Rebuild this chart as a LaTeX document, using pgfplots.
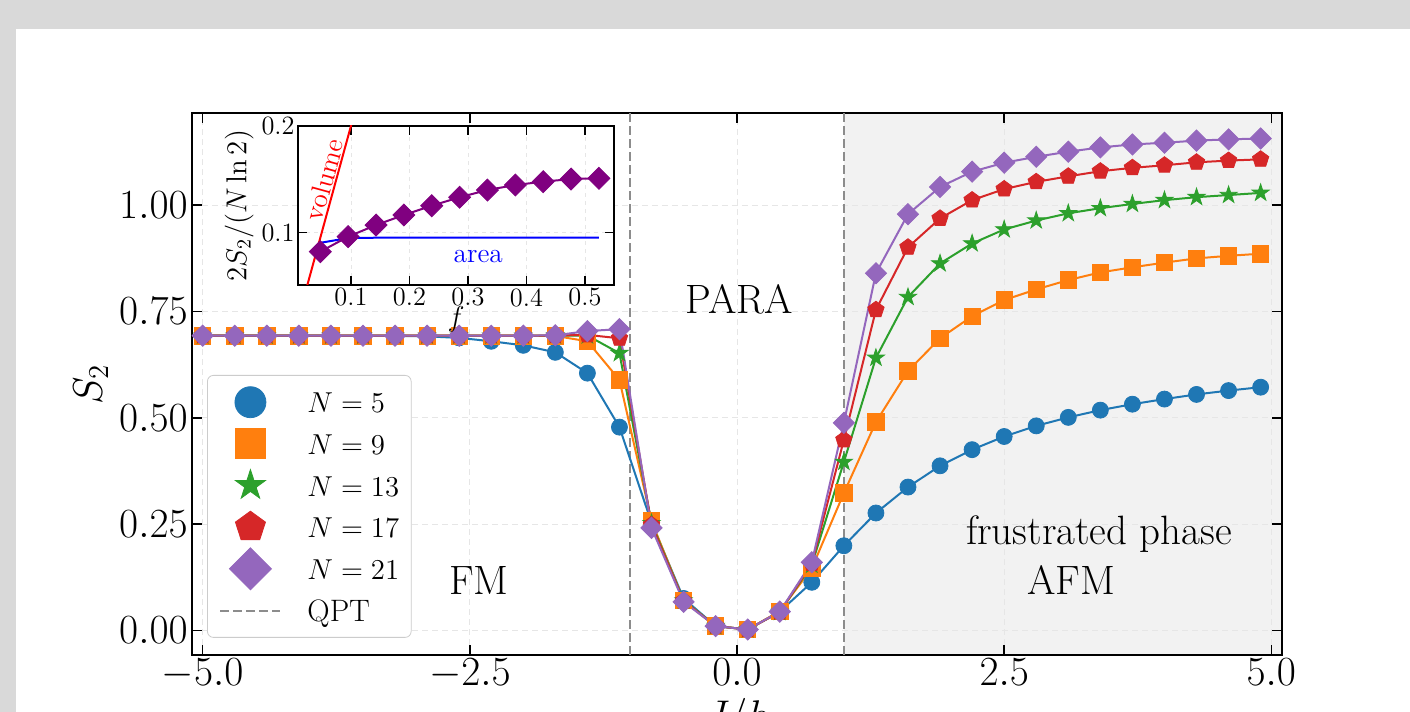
\documentclass[border=0pt]{standalone}
\usepackage{pgfplots}
\pgfplotsset{compat=1.18}

\definecolor{c0}{HTML}{1F77B4}
\definecolor{c1}{HTML}{FF7F0E}
\definecolor{c2}{HTML}{2CA02C}
\definecolor{c3}{HTML}{D62728}
\definecolor{c4}{HTML}{9467BD}
\definecolor{insetpurple}{HTML}{800080}
\definecolor{pagegray}{HTML}{D9D9D9}
\definecolor{frustgray}{HTML}{F2F2F2}
\definecolor{gridc}{HTML}{E6E6E6}
\definecolor{qptc}{HTML}{8C8C8C}

\newcommand{\ftick}{\fontsize{20.5}{24}\selectfont}
\newcommand{\fleg}{\fontsize{15.5}{18}\selectfont}
\newcommand{\fins}{\fontsize{13.2}{15}\selectfont}
\newcommand{\finl}{\fontsize{13.7}{16}\selectfont}

% filled markers shaped like the matplotlib ones
\pgfdeclareplotmark{fstar}{%
  \pgfpathmoveto{\pgfqpoint{0pt}{\pgfplotmarksize}}%
  \pgfpathlineto{\pgfqpoint{-0.2245\pgfplotmarksize}{0.3090\pgfplotmarksize}}%
  \pgfpathlineto{\pgfqpoint{-0.9511\pgfplotmarksize}{0.3090\pgfplotmarksize}}%
  \pgfpathlineto{\pgfqpoint{-0.3633\pgfplotmarksize}{-0.1180\pgfplotmarksize}}%
  \pgfpathlineto{\pgfqpoint{-0.5878\pgfplotmarksize}{-0.8090\pgfplotmarksize}}%
  \pgfpathlineto{\pgfqpoint{0pt}{-0.382\pgfplotmarksize}}%
  \pgfpathlineto{\pgfqpoint{0.5878\pgfplotmarksize}{-0.8090\pgfplotmarksize}}%
  \pgfpathlineto{\pgfqpoint{0.3633\pgfplotmarksize}{-0.1180\pgfplotmarksize}}%
  \pgfpathlineto{\pgfqpoint{0.9511\pgfplotmarksize}{0.3090\pgfplotmarksize}}%
  \pgfpathlineto{\pgfqpoint{0.2245\pgfplotmarksize}{0.3090\pgfplotmarksize}}%
  \pgfpathclose\pgfusepathqfillstroke}
\pgfdeclareplotmark{fpent}{%
  \pgfpathmoveto{\pgfqpoint{0pt}{\pgfplotmarksize}}%
  \pgfpathlineto{\pgfqpoint{-0.9511\pgfplotmarksize}{0.3090\pgfplotmarksize}}%
  \pgfpathlineto{\pgfqpoint{-0.5878\pgfplotmarksize}{-0.8090\pgfplotmarksize}}%
  \pgfpathlineto{\pgfqpoint{0.5878\pgfplotmarksize}{-0.8090\pgfplotmarksize}}%
  \pgfpathlineto{\pgfqpoint{0.9511\pgfplotmarksize}{0.3090\pgfplotmarksize}}%
  \pgfpathclose\pgfusepathqfillstroke}
\pgfdeclareplotmark{fdiam}{%
  \pgfpathmoveto{\pgfqpoint{0pt}{\pgfplotmarksize}}%
  \pgfpathlineto{\pgfqpoint{-\pgfplotmarksize}{0pt}}%
  \pgfpathlineto{\pgfqpoint{0pt}{-\pgfplotmarksize}}%
  \pgfpathlineto{\pgfqpoint{\pgfplotmarksize}{0pt}}%
  \pgfpathclose\pgfusepathqfillstroke}

\pgfplotsset{
  ser/.style={line width=1pt, mark options={solid, line width=0.4pt}},
  n5/.style={ser, c0, mark=*, mark size=4pt,
    legend image code/.code={\draw[##1, mark size=7.75pt] plot coordinates {(15pt,0pt)};}},
  n9/.style={ser, c1, mark=square*, mark size=4.1pt,
    legend image code/.code={\draw[##1, mark size=7.5pt] plot coordinates {(15pt,0pt)};}},
  n13/.style={ser, c2, mark=fstar, mark size=4.5pt,
    legend image code/.code={\draw[##1, mark size=7.9pt] plot coordinates {(15pt,0pt)};}},
  n17/.style={ser, c3, mark=fpent, mark size=4.3pt,
    legend image code/.code={\draw[##1, mark size=7.9pt] plot coordinates {(15pt,0pt)};}},
  n21/.style={ser, c4, mark=fdiam, mark size=5.3pt,
    legend image code/.code={\draw[##1, mark size=10.5pt] plot coordinates {(15pt,0pt)};}},
  qpt/.style={qptc, line width=1pt, dash pattern=on 4.5pt off 2pt,
    legend image code/.code={\draw[##1] (0pt,0pt) -- (30pt,0pt);}},
}

\begin{document}
\begin{tikzpicture}
\useasboundingbox (0,0) rectangle (705pt,356pt);
\fill[pagegray] (0,0) rectangle (705pt,356pt);
\fill[white] (8pt,0) rectangle (705pt,341.5pt);

% shaded frustrated region, under the grid of the main axis
\begin{axis}[
    at={(96pt,28.5pt)}, anchor=south west,
    width=545pt, height=271pt, scale only axis,
    xmin=-5.1, xmax=5.1, ymin=-0.058, ymax=1.217,
    hide axis,
  ]
  \fill[frustgray] (axis cs:1,-0.058) rectangle (axis cs:5.1,1.217);
\end{axis}

\begin{axis}[
    at={(96pt,28.5pt)}, anchor=south west,
    width=545pt, height=271pt, scale only axis,
    xmin=-5.1, xmax=5.1, ymin=-0.058, ymax=1.217,
    xtick={-5,-2.5,0,2.5,5},
    ytick={0,0.25,0.5,0.75,1},
    x tick label style={/pgf/number format/.cd, fixed, fixed zerofill, precision=1, /tikz/.cd, inner sep=1.5pt},
    y tick label style={/pgf/number format/.cd, fixed, fixed zerofill, precision=2, /tikz/.cd, inner sep=2pt},
    tick label style={font=\ftick},
    label style={font=\ftick},
    xlabel={$J/h$}, ylabel={$S_2$},
    tick align=inside, tick pos=both, major tick length=5pt,
    major tick style={black, line width=0.8pt},
    axis line style={black, line width=0.9pt},
    grid=major, major grid style={gridc, line width=0.5pt, dash pattern=on 3pt off 2pt},
    legend cell align=left,
    legend style={
      at={(0.0138,0.5166)}, anchor=north west,
      draw=black!20, rounded corners=3pt, fill=white,
      font=\fleg, inner xsep=6pt, inner ysep=3pt, row sep=0pt,
      /tikz/every odd column/.append style={column sep=13pt},
      nodes={inner sep=0pt, text height=15.7pt, text depth=5.1pt},
    },
  ]
  \addplot[qpt, forget plot] coordinates {(-1,-0.058) (-1,1.217)};
  \addplot[qpt, forget plot] coordinates {(1,-0.058) (1,1.217)};

  % N = 5
  \addplot[n5] coordinates {
    (-5.0,0.6931) (-4.7,0.6931) (-4.4,0.6931) (-4.1,0.6931) (-3.8,0.6930) (-3.5,0.6929)
    (-3.2,0.6925) (-2.9,0.6915) (-2.6,0.6880) (-2.3,0.6800) (-2.0,0.6705) (-1.7,0.6540)
    (-1.4,0.6050) (-1.1,0.4780) (-0.8,0.2530) (-0.5,0.0750) (-0.2,0.0100) (0.1,0.0020)
    (0.4,0.0440) (0.7,0.1130) (1.0,0.1990) (1.3,0.2760) (1.6,0.3370) (1.9,0.3870)
    (2.2,0.4250) (2.5,0.4560) (2.8,0.4810) (3.1,0.5010) (3.4,0.5180) (3.7,0.5320)
    (4.0,0.5440) (4.3,0.5550) (4.6,0.5640) (4.9,0.5720)};
  % N = 9
  \addplot[n9] coordinates {
    (-5.0,0.6931) (-4.7,0.6931) (-4.4,0.6931) (-4.1,0.6931) (-3.8,0.6931) (-3.5,0.6931)
    (-3.2,0.6931) (-2.9,0.6931) (-2.6,0.6931) (-2.3,0.6931) (-2.0,0.6930) (-1.7,0.6925)
    (-1.4,0.6800) (-1.1,0.5890) (-0.8,0.2570) (-0.5,0.0700) (-0.2,0.0100) (0.1,0.0020)
    (0.4,0.0450) (0.7,0.1460) (1.0,0.3230) (1.3,0.4900) (1.6,0.6100) (1.9,0.6870)
    (2.2,0.7390) (2.5,0.7770) (2.8,0.8020) (3.1,0.8240) (3.4,0.8420) (3.7,0.8540)
    (4.0,0.8650) (4.3,0.8750) (4.6,0.8810) (4.9,0.8860)};
  % N = 13
  \addplot[n13] coordinates {
    (-5.0,0.6931) (-4.7,0.6931) (-4.4,0.6931) (-4.1,0.6931) (-3.8,0.6931) (-3.5,0.6931)
    (-3.2,0.6931) (-2.9,0.6931) (-2.6,0.6931) (-2.3,0.6931) (-2.0,0.6931) (-1.7,0.6932)
    (-1.4,0.6935) (-1.1,0.6520) (-0.8,0.2520) (-0.5,0.0700) (-0.2,0.0100) (0.1,0.0020)
    (0.4,0.0430) (0.7,0.1540) (1.0,0.3960) (1.3,0.6410) (1.6,0.7840) (1.9,0.8630)
    (2.2,0.9100) (2.5,0.9430) (2.8,0.9640) (3.1,0.9810) (3.4,0.9930) (3.7,1.0030)
    (4.0,1.0120) (4.3,1.0190) (4.6,1.0240) (4.9,1.0290)};
  % N = 17
  \addplot[n17] coordinates {
    (-5.0,0.6931) (-4.7,0.6931) (-4.4,0.6931) (-4.1,0.6931) (-3.8,0.6931) (-3.5,0.6931)
    (-3.2,0.6931) (-2.9,0.6931) (-2.6,0.6931) (-2.3,0.6931) (-2.0,0.6931) (-1.7,0.6935)
    (-1.4,0.6950) (-1.1,0.6870) (-0.8,0.2480) (-0.5,0.0690) (-0.2,0.0100) (0.1,0.0020)
    (0.4,0.0430) (0.7,0.1570) (1.0,0.4480) (1.3,0.7540) (1.6,0.9010) (1.9,0.9690)
    (2.2,1.0120) (2.5,1.0380) (2.8,1.0550) (3.1,1.0680) (3.4,1.0800) (3.7,1.0880)
    (4.0,1.0940) (4.3,1.1010) (4.6,1.1050) (4.9,1.1080)};
  % N = 21
  \addplot[n21] coordinates {
    (-5.0,0.6931) (-4.7,0.6931) (-4.4,0.6931) (-4.1,0.6931) (-3.8,0.6931) (-3.5,0.6931)
    (-3.2,0.6931) (-2.9,0.6931) (-2.6,0.6931) (-2.3,0.6931) (-2.0,0.6932) (-1.7,0.6940)
    (-1.4,0.7040) (-1.1,0.7085) (-0.8,0.2410) (-0.5,0.0670) (-0.2,0.0100) (0.1,0.0020)
    (0.4,0.0440) (0.7,0.1600) (1.0,0.4880) (1.3,0.8400) (1.6,0.9790) (1.9,1.0430)
    (2.2,1.0790) (2.5,1.1000) (2.8,1.1140) (3.1,1.1260) (3.4,1.1360) (3.7,1.1430)
    (4.0,1.1470) (4.3,1.1520) (4.6,1.1550) (4.9,1.1570)};
  \addlegendimage{qpt}
  \legend{$N=5$, $N=9$, $N=13$, $N=17$, $N=21$, QPT}

  \node[font=\ftick, anchor=base] at (axis cs:0.02,0.746) {PARA};
  \node[font=\ftick, anchor=base] at (axis cs:-2.414,0.084) {FM};
  \node[font=\ftick, anchor=base] at (axis cs:3.388,0.201) {frustrated phase};
  \node[font=\ftick, anchor=base] at (axis cs:3.13,0.084) {AFM};
\end{axis}

% inset: scaling with subsystem fraction
\begin{axis}[
    at={(149pt,213.5pt)}, anchor=south west,
    width=158pt, height=79.5pt, scale only axis,
    axis background/.style={fill=white},
    xmin=0.0095, xmax=0.5496, ymin=0.051, ymax=0.2,
    xtick={0.1,0.2,0.3,0.4,0.5}, ytick={0.1,0.2},
    x tick label style={/pgf/number format/.cd, fixed, fixed zerofill, precision=1, assume math mode=true, /tikz/.cd, inner sep=1.5pt},
    y tick label style={/pgf/number format/.cd, fixed, fixed zerofill, precision=1, assume math mode=true, /tikz/.cd, inner sep=1.5pt},
    tick label style={font=\fins},
    label style={font=\finl},
    xlabel={$f$}, ylabel={$2S_2/(N\ln 2)$},
    xlabel style={yshift=5pt}, ylabel style={yshift=-1pt},
    tick align=inside, tick pos=both, major tick length=4.5pt,
    major tick style={black, line width=0.7pt},
    axis line style={black, line width=0.8pt},
    grid=major, major grid style={gridc, line width=0.4pt, dash pattern=on 2pt off 2pt},
  ]
  \addplot[red, line width=1pt] coordinates {(0.0,0.0) (0.15,0.30)};
  \addplot[blue, line width=1pt] coordinates {
    (0.0476,0.0905) (0.0952,0.0950) (0.1429,0.0953) (0.1905,0.0953) (0.2381,0.0953)
    (0.2857,0.0953) (0.3333,0.0953) (0.3810,0.0953) (0.4286,0.0953) (0.4762,0.0953)
    (0.5238,0.0953)};
  \addplot[insetpurple, line width=1pt, mark=fdiam, mark size=5.5pt,
           mark options={fill=insetpurple, line width=0.4pt}] coordinates {
    (0.0476,0.0822) (0.0952,0.0963) (0.1429,0.1072) (0.1905,0.1166) (0.2381,0.1253)
    (0.2857,0.1332) (0.3333,0.1400) (0.3810,0.1447) (0.4286,0.1478) (0.4762,0.1503)
    (0.5238,0.1510)};
  \node[red, rotate=74.6, font=\finl] at (axis cs:0.0540,0.1494) {volume};
  \node[blue, font=\finl] at (axis cs:0.3176,0.0775) {area};
\end{axis}
\end{tikzpicture}
\end{document}
